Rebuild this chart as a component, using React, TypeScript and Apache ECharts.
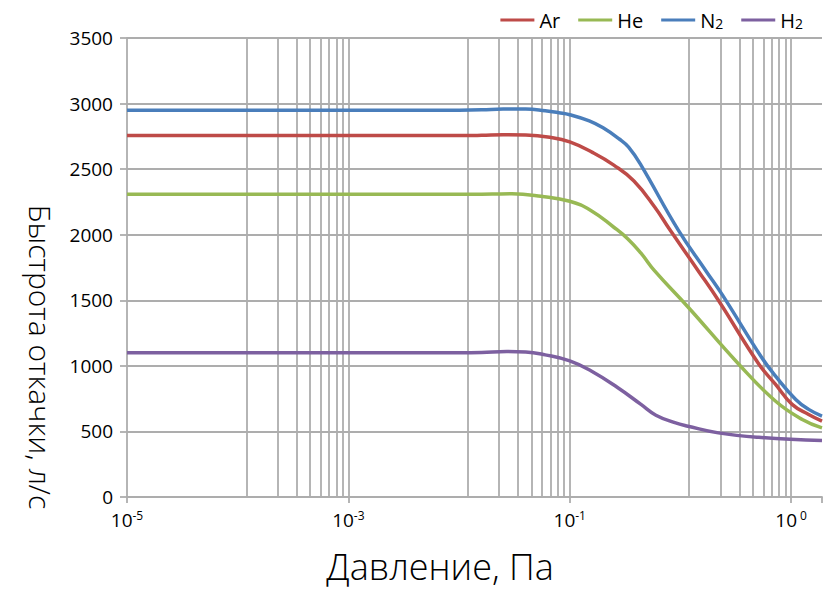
import React, { useEffect, useRef } from "react";
import * as echarts from "echarts";

// ---- data (pressure, Pa / pumping speed, l/s) ----
const seriesNames = ["Ar", "He", "N₂", "H₂"];
const seriesColors = ["#BE4B48", "#98B954", "#4A7EBB", "#7D60A0"];

const pressureAr = [1e-5, 1e-3, 0.01, 0.016, 0.025, 0.04, 0.066, 0.1, 0.16, 0.25, 0.38, 0.585, 0.8, 1.45, 2.2, 5.1, 7.2, 10.2, 14.4, 19];
const speedAr = [2756, 2756, 2756, 2758, 2762, 2760, 2743, 2708, 2628, 2531, 2410, 2211, 2039, 1724, 1500, 1014, 860, 706, 629, 578];

const pressureHe = [1e-5, 1e-3, 0.01, 0.02, 0.03, 0.055, 0.1, 0.155, 0.25, 0.335, 0.44, 0.585, 1.17, 3.35, 7.2, 12.6, 19];
const speedHe = [2308, 2308, 2308, 2310, 2312, 2293, 2255, 2185, 2057, 1968, 1859, 1724, 1449, 1014, 732, 591, 527];

const pressureN2 = [1e-5, 1e-3, 0.01, 0.016, 0.025, 0.04, 0.06, 0.08, 0.1, 0.15, 0.2, 0.28, 0.34, 0.44, 0.95, 1.7, 2.4, 5.4, 7.2, 11, 14.4, 19];
const speedN2 = [2950, 2950, 2950, 2952, 2958, 2958, 2945, 2930, 2915, 2868, 2815, 2730, 2668, 2531, 2039, 1724, 1539, 1065, 924, 744, 668, 617];

const pressureH2 = [1e-5, 1e-3, 0.01, 0.016, 0.027, 0.04, 0.06, 0.1, 0.155, 0.27, 0.44, 0.6, 0.89, 1.17, 2.2, 5.1, 19];
const speedH2 = [1100, 1100, 1100, 1102, 1109, 1106, 1084, 1038, 963, 835, 706, 624, 567, 540, 489, 455, 430];

// ---- axes ----
const xTickValues = [1e-5, 1e-3, 1e-1, 10];
const xTickSup = ["-5", "-3", "-1", " 0"];
const xMajorGrid = [1e-3, 0.1, 10];
const xMinorGrid = [
  1.2e-4, 2.3e-4, 3.4e-4, 4.5e-4, 5.6e-4, 6.7e-4, 7.8e-4, 8.9e-4,
  0.012, 0.023, 0.034, 0.045, 0.056, 0.067, 0.078, 0.089,
  1.2, 2.3, 3.4, 4.5, 5.6, 6.7, 7.8, 8.9,
];
const yMin = 0;
const yMax = 3500;
const yInterval = 500;

const xTitle = "Давление, Па";
const yTitle = "Быстрота откачки, л/с";

const FONT = "'Open Sans', 'Noto Sans', sans-serif";
const GRID_COLOR = "#ADADAD";
const GRID_WIDTH = 1.8;

export default function App() {
  const ref = useRef<HTMLDivElement>(null);

  useEffect(() => {
    document.body.style.margin = "0";
    if (!ref.current) return;
    const chart = echarts.init(ref.current, undefined, { renderer: "svg" });

    const pressures = [pressureAr, pressureHe, pressureN2, pressureH2];
    const speeds = [speedAr, speedHe, speedN2, speedH2];

    const series: any[] = seriesNames.map((name, i) => ({
      name,
      type: "line",
      z: 3,
      symbol: "none",
      showSymbol: false,
      smooth: 0.45,
      lineStyle: { width: 3.5, color: seriesColors[i] },
      itemStyle: { color: seriesColors[i] },
      data: pressures[i].map((p, j) => [p, speeds[i][j]]),
    }));

    series[0].markLine = {
      silent: true,
      z: 1,
      precision: 10,
      symbol: "none",
      animation: false,
      label: { show: false },
      lineStyle: { color: GRID_COLOR, width: GRID_WIDTH, type: "solid" },
      emphasis: { disabled: true },
      data: [...xMajorGrid, ...xMinorGrid].map((v) => ({ xAxis: v })),
    };

    chart.setOption({
      animation: false,
      textStyle: { fontFamily: FONT },
      grid: { left: 127, right: 5, top: 38, bottom: 103, containLabel: false },
      legend: {
        data: seriesNames,
        right: 19,
        top: 5,
        icon: "rect",
        itemWidth: 34,
        itemHeight: 3,
        itemGap: 18,
        textStyle: {
          fontSize: 20,
          color: "#000",
          fontFamily: FONT,
          rich: {
            t: { fontSize: 20, color: "#000", fontFamily: FONT },
            s: { fontSize: 14, color: "#000", fontFamily: FONT, verticalAlign: "bottom" },
          },
        },
        formatter: (name: string) => {
          const m = name.match(/^(.*?)(₂)$/);
          if (m) return `{t|${m[1]}}{s|2}`;
          return `{t|${name}}`;
        },
      },
      xAxis: {
        type: "log",
        logBase: 10,
        min: xTickValues[0],
        max: 19,
        interval: 2,
        axisLine: { show: true, lineStyle: { color: GRID_COLOR, width: GRID_WIDTH } },
        axisTick: { show: true, length: 6, lineStyle: { color: GRID_COLOR, width: GRID_WIDTH } },
        splitLine: { show: false },
        minorTick: { show: false },
        axisLabel: {
          margin: 12,
          formatter: (v: number) => {
            const e = Math.log10(v);
            for (let k = 0; k < xTickValues.length; k++) {
              if (Math.abs(Math.log10(xTickValues[k]) - e) < 0.01) {
                return `{b|10}{s|${xTickSup[k]}}`;
              }
            }
            return "";
          },
          rich: {
            b: { fontSize: 19, lineHeight: 22, color: "#000", fontFamily: FONT },
            s: { fontSize: 12, lineHeight: 14, color: "#000", fontFamily: FONT, verticalAlign: "top" },
          },
        },
      },
      yAxis: {
        type: "value",
        min: yMin,
        max: yMax,
        interval: yInterval,
        axisLine: { show: true, lineStyle: { color: GRID_COLOR, width: GRID_WIDTH } },
        axisTick: { show: true, length: 7, lineStyle: { color: GRID_COLOR, width: GRID_WIDTH } },
        splitLine: { show: true, lineStyle: { color: GRID_COLOR, width: GRID_WIDTH } },
        axisLabel: {
          margin: 14,
          fontSize: 19,
          color: "#000",
          fontFamily: FONT,
          formatter: (v: number) => String(v),
        },
      },
      graphic: [
        {
          type: "text",
          x: 440,
          y: 566,
          style: {
            text: xTitle,
            fontSize: 36,
            fontWeight: 300,
            fontFamily: FONT,
            fill: "#000",
            align: "center",
            verticalAlign: "middle",
          },
        },
        {
          type: "text",
          x: 40,
          y: 357,
          rotation: -Math.PI / 2,
          style: {
            text: yTitle,
            fontSize: 30,
            fontWeight: 300,
            fontFamily: FONT,
            fill: "#000",
            align: "center",
            verticalAlign: "middle",
          },
        },
      ],
      series,
    });

    return () => chart.dispose();
  }, []);

  return <div ref={ref} style={{ width: 827, height: 600 }} />;
}
